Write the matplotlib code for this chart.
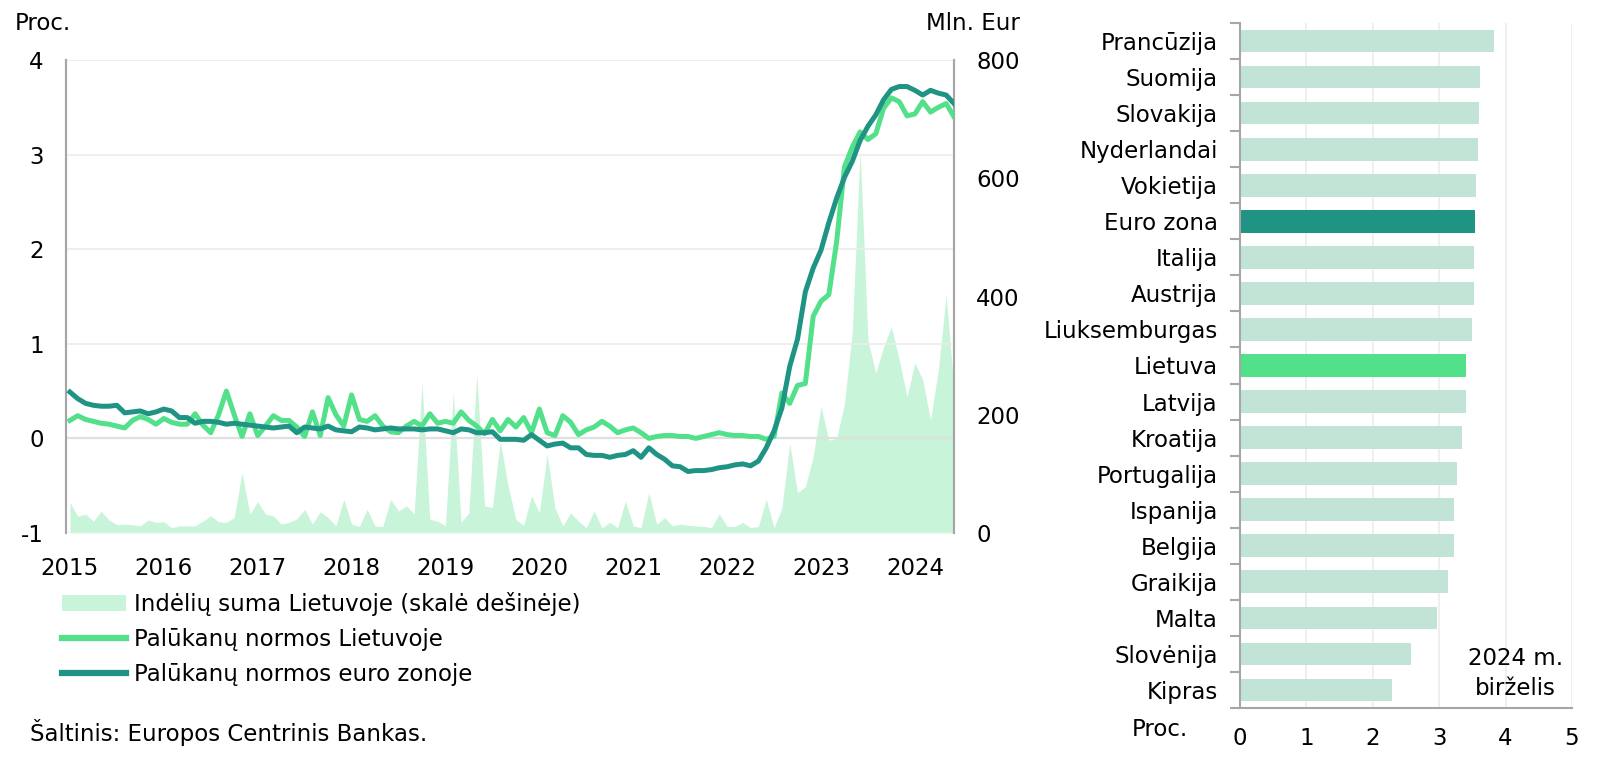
import numpy as np
import matplotlib.pyplot as plt
from matplotlib.patches import Patch
from matplotlib.lines import Line2D

plt.rcParams['font.family'] = ['DejaVu Sans']
plt.rcParams['axes.unicode_minus'] = False

# monthly data, 2015-01 .. 2024-06
years = ['2015', '2016', '2017', '2018', '2019', '2020', '2021', '2022', '2023', '2024']

rate_ez = [0.49, 0.42, 0.37, 0.35, 0.34, 0.34, 0.35, 0.27, 0.28, 0.29,
           0.26, 0.28, 0.31, 0.29, 0.22, 0.22, 0.16, 0.18, 0.18, 0.17,
           0.15, 0.16, 0.15, 0.14, 0.13, 0.12, 0.11, 0.12, 0.13, 0.06,
           0.12, 0.11, 0.10, 0.13, 0.09, 0.08, 0.07, 0.12, 0.11, 0.09,
           0.10, 0.11, 0.10, 0.10, 0.10, 0.09, 0.10, 0.10, 0.08, 0.06,
           0.10, 0.09, 0.06, 0.06, 0.07, -0.01, -0.01, -0.01, -0.02, 0.04,
           -0.02, -0.08, -0.06, -0.05, -0.10, -0.10, -0.17, -0.18, -0.18, -0.20,
           -0.18, -0.17, -0.13, -0.20, -0.10, -0.17, -0.22, -0.29, -0.30, -0.35,
           -0.34, -0.34, -0.33, -0.31, -0.30, -0.28, -0.27, -0.29, -0.24, -0.10,
           0.08, 0.32, 0.76, 1.05, 1.55, 1.80, 1.99, 2.28, 2.54, 2.76,
           2.93, 3.15, 3.30, 3.42, 3.58, 3.69, 3.72, 3.72, 3.68, 3.63,
           3.68, 3.65, 3.63, 3.54]

rate_lt = [0.19, 0.24, 0.20, 0.18, 0.16, 0.15, 0.13, 0.11, 0.19, 0.23,
           0.20, 0.15, 0.21, 0.17, 0.15, 0.15, 0.26, 0.14, 0.06, 0.25,
           0.50, 0.25, 0.02, 0.26, 0.03, 0.13, 0.24, 0.19, 0.19, 0.12,
           0.02, 0.28, 0.03, 0.43, 0.25, 0.13, 0.46, 0.20, 0.18, 0.24,
           0.13, 0.07, 0.06, 0.13, 0.18, 0.13, 0.26, 0.16, 0.18, 0.16,
           0.28, 0.19, 0.13, 0.05, 0.20, 0.08, 0.20, 0.12, 0.22, 0.06,
           0.31, 0.06, 0.03, 0.24, 0.17, 0.04, 0.09, 0.12, 0.18, 0.13,
           0.06, 0.09, 0.11, 0.06, 0.00, 0.02, 0.03, 0.03, 0.02, 0.02,
           0.00, 0.02, 0.04, 0.06, 0.04, 0.03, 0.03, 0.02, 0.02, -0.01,
           0.02, 0.48, 0.37, 0.56, 0.58, 1.29, 1.45, 1.52, 2.08, 2.87,
           3.08, 3.24, 3.16, 3.22, 3.49, 3.60, 3.56, 3.41, 3.43, 3.56,
           3.45, 3.50, 3.54, 3.40]

deposits_lt = [52, 28, 32, 20, 37, 22, 14, 15, 14, 12,
               22, 18, 19, 9, 12, 12, 12, 20, 29, 19,
               18, 26, 102, 32, 53, 32, 29, 15, 18, 24,
               40, 15, 36, 26, 12, 57, 15, 11, 40, 12,
               11, 57, 37, 46, 32, 255, 23, 20, 12, 238,
               18, 34, 269, 46, 43, 155, 80, 23, 13, 63,
               34, 133, 42, 12, 34, 20, 9, 37, 9, 18,
               9, 54, 12, 9, 68, 15, 26, 12, 15, 13,
               12, 11, 9, 32, 11, 11, 18, 9, 11, 57,
               9, 42, 152, 68, 78, 129, 214, 157, 160, 219,
               340, 648, 326, 270, 315, 349, 293, 230, 288, 259,
               191, 276, 403, 242]

countries = ['Prancūzija', 'Suomija', 'Slovakija', 'Nyderlandai', 'Vokietija',
             'Euro zona', 'Italija', 'Austrija', 'Liuksemburgas', 'Lietuva',
             'Latvija', 'Kroatija', 'Portugalija', 'Ispanija', 'Belgija',
             'Graikija', 'Malta', 'Slovėnija', 'Kipras']
rates_jun24 = [3.82, 3.62, 3.60, 3.59, 3.56, 3.54, 3.53, 3.53, 3.49, 3.40,
               3.40, 3.34, 3.27, 3.22, 3.22, 3.14, 2.97, 2.57, 2.29]

c_area = '#c8f4da'
c_lt = '#52e08a'
c_ez = '#1f9484'
c_bar = '#c2e4d6'
c_grid = '#ececec'
c_spine = '#a6a6a6'
fs = 16.5

fig = plt.figure(figsize=(16, 7.64), dpi=100)

# left chart: area on the right-hand scale, lines on top with left scale
ax_area = fig.add_axes([0.04125, 0.3024, 0.555, 0.619])
ax = ax_area.twinx()
x = np.arange(len(rate_ez))

ax_area.fill_between(x, 0, deposits_lt, color=c_area, linewidth=0)
ax_area.set_ylim(0, 800)
ax_area.set_yticks([0, 200, 400, 600, 800])
ax_area.yaxis.tick_right()
ax_area.tick_params(axis='y', length=0, pad=16, labelsize=fs)
ax_area.set_xlim(-0.5, len(x) - 1)

ax.yaxis.tick_left()
ax.set_ylim(-1, 4)
ax.set_yticks([-1, 0, 1, 2, 3, 4])
ax.tick_params(axis='y', length=0, pad=16, labelsize=fs)
ax.grid(axis='y', color=c_grid, linewidth=1.2, zorder=0)
ax.axhline(0, color=c_spine, linewidth=1.5, zorder=1)
ax.plot(x, rate_lt, color=c_lt, linewidth=3.6, zorder=3, solid_joinstyle='round')
ax.plot(x, rate_ez, color=c_ez, linewidth=3.6, zorder=4, solid_joinstyle='round')

ax_area.set_xticks(np.arange(0, len(x), 12))
ax_area.set_xticklabels(years)
ax_area.tick_params(axis='x', length=0, pad=17, labelsize=fs)

for a in (ax, ax_area):
    a.spines['top'].set_visible(False)
    a.spines['bottom'].set_visible(False)
    a.spines['left'].set_color(c_spine)
    a.spines['right'].set_color(c_spine)
    a.spines['left'].set_linewidth(1.5)
    a.spines['right'].set_linewidth(1.5)

fig.text(15 / 1600, 1 - 24 / 764, 'Proc.', fontsize=fs, va='center', ha='left')
fig.text(1020 / 1600, 1 - 24 / 764, 'Mln. Eur', fontsize=fs, va='center', ha='right')

handles = [Patch(facecolor=c_area, edgecolor='none'),
           Line2D([], [], color=c_lt, linewidth=4.5),
           Line2D([], [], color=c_ez, linewidth=4.5)]
labels = ['Indėlių suma Lietuvoje (skalė dešinėje)',
          'Palūkanų normos Lietuvoje',
          'Palūkanų normos euro zonoje']
fig.legend(handles, labels, loc='upper left', bbox_to_anchor=(62 / 1600, 1 - 592 / 764),
           frameon=False, fontsize=fs, handlelength=2.8, handleheight=0.7,
           handletextpad=0.35, labelspacing=0.52, borderpad=0, borderaxespad=0)

fig.text(30 / 1600, 1 - 733 / 764, 'Šaltinis: Europos Centrinis Bankas.',
         fontsize=fs, va='center', ha='left')

# right chart: June 2024 rates by country
axb = fig.add_axes([0.775, 0.0733, 0.2075, 0.8966])
yb = np.arange(len(countries))
colors = [c_bar] * len(countries)
colors[countries.index('Euro zona')] = c_ez
colors[countries.index('Lietuva')] = c_lt
axb.barh(yb, rates_jun24, height=0.63, color=colors, zorder=2)
axb.set_ylim(len(countries) - 0.5, -0.5)
axb.set_xlim(0, 5)
axb.set_yticks(yb)
axb.set_yticklabels(countries)
axb.set_yticks(np.arange(-0.5, len(countries), 1), minor=True)
axb.tick_params(axis='y', which='major', length=0, pad=16, labelsize=fs)
axb.tick_params(axis='y', which='minor', length=7, width=1.5, color=c_spine)
axb.set_xticks([0, 1, 2, 3, 4, 5])
axb.tick_params(axis='x', length=0, pad=14, labelsize=fs)
axb.grid(axis='x', color=c_grid, linewidth=1.2, zorder=0)
axb.spines['top'].set_visible(False)
axb.spines['right'].set_visible(False)
axb.spines['left'].set_color(c_spine)
axb.spines['bottom'].set_color(c_spine)
axb.spines['left'].set_linewidth(1.5)
axb.spines['bottom'].set_linewidth(1.5)

fig.text(1160 / 1600, 1 - 730 / 764, 'Proc.', fontsize=fs, va='center', ha='center')
axb.text(0.83, 0.05, '2024 m.\nbirželis', transform=axb.transAxes, fontsize=fs,
         ha='center', va='center', linespacing=1.4)

fig.savefig('out.png', dpi=100, facecolor='white')
